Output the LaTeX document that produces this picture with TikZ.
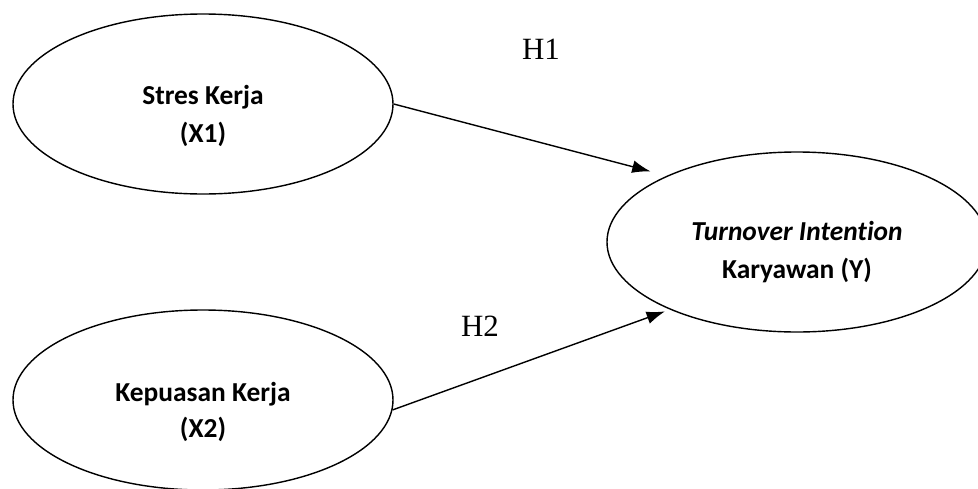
\documentclass[tikz,border=0pt]{standalone}
\usepackage{fontspec}
\setmainfont{Liberation Serif}
\newfontfamily\calibri[Ligatures=NoCommon]{Carlito}
\usetikzlibrary{shapes.geometric, arrows.meta}

\begin{document}
\begin{tikzpicture}[x=0.25mm, y=-0.25mm, line width=1pt]
        % Styles
        \tikzset{
            var/.style={draw, ellipse, minimum width=95mm, minimum height=45mm, inner sep=0pt},
            vartext/.style={font=\calibri\bfseries\fontsize{19.5}{27}\selectfont, align=center, yshift=-3mm},
            hyp/.style={font=\fontsize{22}{26}\selectfont},
            arrowline/.style={-{Latex[length=4.6mm, width=3.2mm]}}
        }
        \useasboundingbox (0,0) rectangle (978,489);

        % Variables
        \node (stres) [var, label={[vartext]center:{Stres Kerja\\(X1)}}] at (203,104) {};
        \node (kepuasan) [var, label={[vartext, font=\calibri\bfseries\fontsize{19.5}{25}\selectfont]center:{Kepuasan Kerja\\(X2)}}] at (203,400) {};
        \node (turnover) [var, label={[vartext, yshift=0.4mm]center:{{\itshape Turnover Intention}\\Karyawan (Y)}}] at (797,242) {};

        % Arrows
        \draw[arrowline, shorten >=4.2mm] (stres.east) -- (turnover.153);
        \draw[arrowline, shorten >=1.3mm] (kepuasan.-3) -- (turnover.208);

        % Hypotheses
        \node (h1) [hyp] at (541,49) {H1};
        \node (h2) [hyp] at (480,326) {H2};
    \end{tikzpicture}
\end{document}
